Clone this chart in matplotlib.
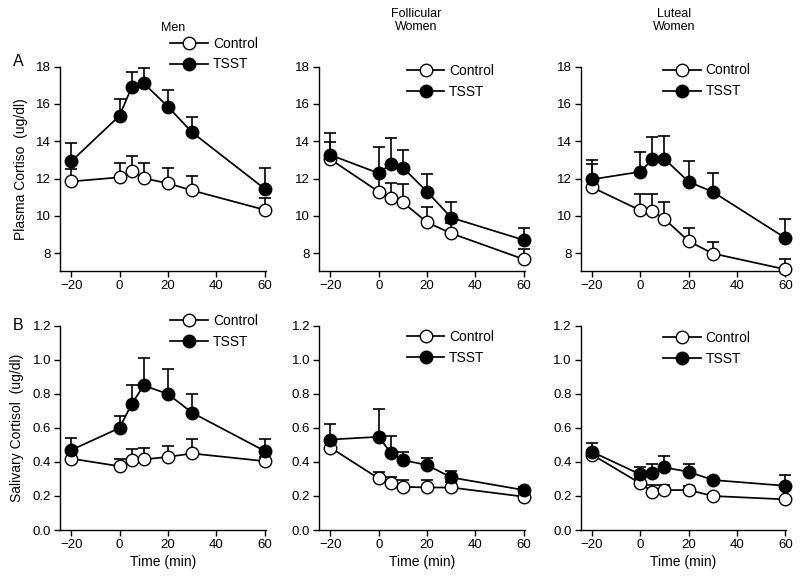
import matplotlib
matplotlib.use("Agg")
import matplotlib.pyplot as plt

plt.rcParams["font.family"] = ["Liberation Sans", "DejaVu Sans"]

time_min = [-20, 0, 5, 10, 20, 30, 60]

# plasma cortisol (ug/dl), mean and upper SEM
men_plasma_ctrl = [11.85, 12.07, 12.43, 12.02, 11.75, 11.37, 10.33]
men_plasma_ctrl_sem = [0.65, 0.79, 0.80, 0.80, 0.80, 0.79, 0.65]
men_plasma_tsst = [12.92, 15.37, 16.89, 17.11, 15.86, 14.48, 11.46]
men_plasma_tsst_sem = [1.01, 0.88, 0.84, 0.84, 0.89, 0.84, 1.09]

fol_plasma_ctrl = [13.04, 11.30, 10.95, 10.73, 9.66, 9.07, 7.68]
fol_plasma_ctrl_sem = [0.94, 0.90, 0.80, 0.97, 0.80, 0.55, 0.55]
fol_plasma_tsst = [13.27, 12.29, 12.79, 12.59, 11.30, 9.91, 8.71]
fol_plasma_tsst_sem = [1.16, 1.42, 1.41, 0.95, 0.93, 0.82, 0.67]

lut_plasma_ctrl = [11.54, 10.30, 10.25, 9.84, 8.65, 7.99, 7.14]
lut_plasma_ctrl_sem = [1.22, 0.87, 0.92, 0.89, 0.72, 0.59, 0.58]
lut_plasma_tsst = [11.96, 12.37, 13.03, 13.06, 11.83, 11.29, 8.82]
lut_plasma_tsst_sem = [1.02, 1.06, 1.20, 1.21, 1.11, 1.03, 1.03]

# salivary cortisol (ug/dl)
men_saliva_ctrl = [0.42, 0.375, 0.41, 0.415, 0.43, 0.45, 0.405]
men_saliva_ctrl_sem = [0.03, 0.045, 0.065, 0.065, 0.065, 0.085, 0.025]
men_saliva_tsst = [0.47, 0.60, 0.74, 0.85, 0.80, 0.69, 0.465]
men_saliva_tsst_sem = [0.07, 0.07, 0.115, 0.16, 0.145, 0.11, 0.07]

fol_saliva_ctrl = [0.485, 0.303, 0.274, 0.254, 0.25, 0.25, 0.196]
fol_saliva_ctrl_sem = [0.03, 0.04, 0.036, 0.04, 0.044, 0.03, 0.02]
fol_saliva_tsst = [0.532, 0.548, 0.454, 0.411, 0.382, 0.309, 0.235]
fol_saliva_tsst_sem = [0.09, 0.162, 0.10, 0.045, 0.043, 0.039, 0.02]

lut_saliva_ctrl = [0.444, 0.274, 0.225, 0.235, 0.235, 0.20, 0.18]
lut_saliva_ctrl_sem = [0.025, 0.03, 0.039, 0.029, 0.023, 0.012, 0.01]
lut_saliva_tsst = [0.46, 0.327, 0.337, 0.368, 0.342, 0.294, 0.26]
lut_saliva_tsst_sem = [0.053, 0.045, 0.051, 0.066, 0.046, 0.02, 0.063]

column_titles = ["Men", "Follicular\nWomen", "Luteal\nWomen"]
plasma_ylabel = "Plasma Cortiso  (ug/dl)"
saliva_ylabel = "Salivary Cortisol  (ug/dl)"
xlabel = "Time (min)"

plasma_rows = [
    (men_plasma_ctrl, men_plasma_ctrl_sem, men_plasma_tsst, men_plasma_tsst_sem),
    (fol_plasma_ctrl, fol_plasma_ctrl_sem, fol_plasma_tsst, fol_plasma_tsst_sem),
    (lut_plasma_ctrl, lut_plasma_ctrl_sem, lut_plasma_tsst, lut_plasma_tsst_sem),
]
saliva_rows = [
    (men_saliva_ctrl, men_saliva_ctrl_sem, men_saliva_tsst, men_saliva_tsst_sem),
    (fol_saliva_ctrl, fol_saliva_ctrl_sem, fol_saliva_tsst, fol_saliva_tsst_sem),
    (lut_saliva_ctrl, lut_saliva_ctrl_sem, lut_saliva_tsst, lut_saliva_tsst_sem),
]

fig = plt.figure(figsize=(8.0, 5.83), dpi=100)

col_left = [0.075, 0.399, 0.726]
col_width = 0.257
row_bottom = [0.5357, 0.0909]
row_height = 0.350

# legend anchor (axes fraction) per panel: (x, y centre of the two rows)
legend_pos = [
    [(0.537, 1.062), (0.426, 0.927), (0.401, 0.930)],
    [(0.537, 0.972), (0.426, 0.893), (0.401, 0.891)],
]
title_pos = [(0.551, 1.19), (0.470, 1.225), (0.455, 1.225)]


def draw_panel(ax, data, ylim, yticks, yfmt):
    ctrl, ctrl_sem, tsst, tsst_sem = data
    for mean, sem, face, label in [
        (ctrl, ctrl_sem, "white", "Control"),
        (tsst, tsst_sem, "black", "TSST"),
    ]:
        ax.errorbar(
            time_min, mean, yerr=[[0] * len(sem), sem],
            fmt="none", ecolor="black", elinewidth=1.2, capsize=4,
            capthick=1.2, clip_on=False, zorder=2,
        )
        ax.plot(
            time_min, mean, "-o", color="black", lw=1.25, ms=9,
            mfc=face, mec="black", mew=1.0, label=label,
            clip_on=False, zorder=3,
        )
    ax.set_xlim(-24.6, 60.4)
    ax.set_ylim(*ylim)
    ax.set_xticks([-20, 0, 20, 40, 60])
    ax.set_xticklabels(["\u221220", "0", "20", "40", "60"])
    ax.set_yticks(yticks)
    ax.set_yticklabels([yfmt.format(v) for v in yticks])
    for side in ["top", "right"]:
        ax.spines[side].set_visible(False)
    for side in ["left", "bottom"]:
        ax.spines[side].set_linewidth(1.0)
    ax.tick_params(direction="out", length=4, width=1.0, labelsize=9.5, pad=2.5)


axes = []
for r in range(2):
    for c in range(3):
        ax = fig.add_axes([col_left[c], row_bottom[r], col_width, row_height])
        if r == 0:
            draw_panel(ax, plasma_rows[c], (7.07, 18), [8, 10, 12, 14, 16, 18], "{:.0f}")
        else:
            draw_panel(ax, saliva_rows[c], (0.0, 1.2), [0.0, 0.2, 0.4, 0.6, 0.8, 1.0, 1.2], "{:.1f}")
            ax.set_xlabel(xlabel, fontsize=10, labelpad=3)
        lx, ly = legend_pos[r][c]
        ax.legend(
            loc="center left", bbox_to_anchor=(lx, ly), frameon=False,
            fontsize=10, handlelength=2.7, handletextpad=0.35,
            labelspacing=0.5, borderpad=0, borderaxespad=0,
        )
        if r == 0:
            tx, ty = title_pos[c]
            ax.text(tx, ty, column_titles[c], transform=ax.transAxes,
                    ha="center", va="center", fontsize=9, linespacing=1.1)
        axes.append(ax)

axes[0].set_ylabel(plasma_ylabel, fontsize=10, labelpad=6)
axes[3].set_ylabel(saliva_ylabel, fontsize=10, labelpad=6)

fig.text(0.016, 0.894, "A", fontsize=11.5, ha="left", va="center")
fig.text(0.016, 0.4425, "B", fontsize=11.5, ha="left", va="center")

fig.savefig("out.png", dpi=100)
